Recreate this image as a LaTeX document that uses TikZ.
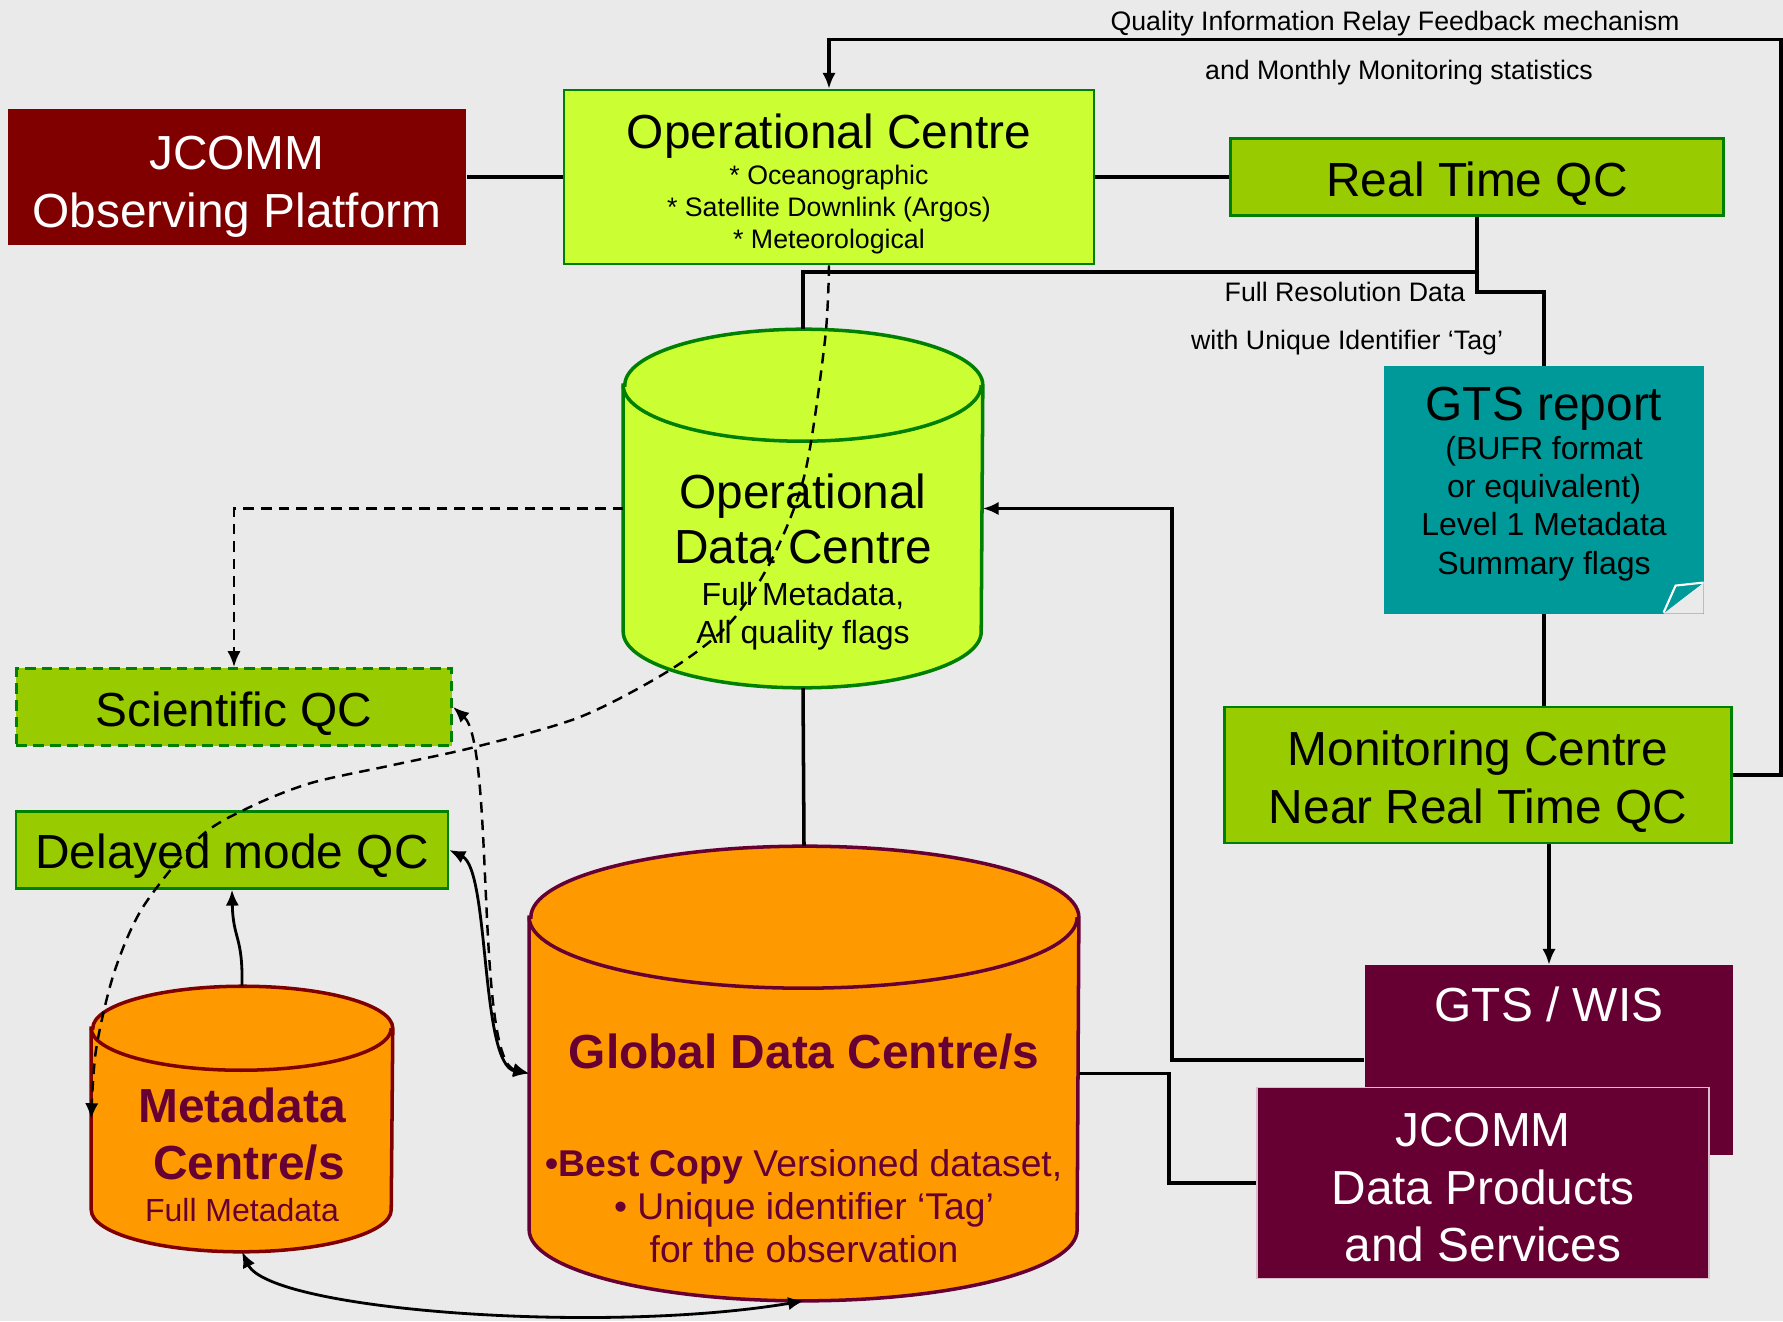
\documentclass[tikz,border=0pt]{standalone}
\usepackage{fontspec}
\setmainfont{Liberation Sans}
\usetikzlibrary{arrows.meta,calc}

\definecolor{bgray}{HTML}{EAEAEA}
\definecolor{limefill}{HTML}{CCFF33}
\definecolor{qcgreen}{HTML}{99CC00}
\definecolor{edgegreen}{HTML}{008000}
\definecolor{gtsteal}{HTML}{009999}
\definecolor{maroonred}{HTML}{800000}
\definecolor{wine}{HTML}{660033}
\definecolor{orangefill}{HTML}{FF9900}

\newcommand{\bigtxt}{\fontsize{13.6}{16.4}\selectfont}
\newcommand{\midtxt}{\fontsize{9.1}{10.9}\selectfont}
\newcommand{\gdctxt}{\fontsize{10.6}{12.3}\selectfont}
\newcommand{\smalltxt}{\fontsize{7.6}{9.1}\selectfont}
\newcommand{\vstrut}[1]{\rule{0pt}{#1}}

% node, x radius, y radius, fill, draw
\newcommand{\dbdrum}[5]{
    \filldraw[fill=#4, draw=#5, line width=1pt] ($(#1.north west)+(0,-#3)$) -- ($(#1.south west)+(0,#3)$)
        arc[start angle=180, end angle=360, x radius=#2, y radius=#3] -- ($(#1.north east)+(0,-#3)$)
        arc[start angle=0, end angle=180, x radius=#2, y radius=#3] -- cycle;
    \draw[#5, line width=1pt] ($(#1.north west)+(0,-#3)$) arc[start angle=180, end angle=360, x radius=#2, y radius=#3];
}

\tikzset{
    box/.style={rectangle, inner sep=0pt, align=center},
    opcbox/.style={box, fill=limefill, draw=edgegreen, line width=0.7pt},
    qcbox/.style={box, fill=qcgreen, draw=edgegreen, line width=0.7pt, font=\bigtxt, execute at begin node={\vstrut{13.5pt}}},
    winebox/.style={box, fill=wine, text=white, font=\bigtxt},
    drum/.style={rectangle, inner sep=0pt, draw=none},
    conn/.style={line width=1pt},
    thinconn/.style={line width=0.8pt},
    dconn/.style={line width=0.7pt, dash pattern=on 3pt off 2pt},
    note/.style={font=\smalltxt},
    >={Latex[length=4.5pt,width=3.8pt]}
}

\begin{document}
\begin{tikzpicture}[x=0.01cm, y=0.01cm]
    \fill[bgray] (0,0) rectangle (1783,-1321);
    \useasboundingbox (0,0) rectangle (1783,-1321);

    \node[winebox, fill=maroonred, minimum width=4.58cm, minimum height=1.35cm] (jobs) at (237,-177) {\vstrut{15.1pt}JCOMM\\Observing Platform};
    \node[opcbox, font=\smalltxt, minimum width=5.30cm, minimum height=1.74cm] (opc) at (829,-177)
        {{\bigtxt\vstrut{13.8pt}Operational Centre}\\[1.4pt]{*} Oceanographic\\{*} Satellite Downlink (Argos)\\{*} Meteorological};
    \node[qcbox, minimum width=4.93cm, minimum height=0.77cm] (rtqc) at (1477,-177) {Real Time QC};
    \node[box, fill=gtsteal, minimum width=3.19cm, minimum height=2.47cm,
        path picture={
            \fill[bgray] ([yshift=0.31cm]path picture bounding box.south east) -- (path picture bounding box.south east)
                -- ([xshift=-0.40cm]path picture bounding box.south east) -- cycle;
            \filldraw[fill=gtsteal, draw=white, line width=0.6pt] ([yshift=0.31cm]path picture bounding box.south east)
                -- ([xshift=-0.28cm,yshift=0.28cm]path picture bounding box.south east)
                -- ([xshift=-0.40cm,yshift=0.01cm]path picture bounding box.south east);
        }] (gtsr) at (1544,-490) {};
    \node[align=center, font=\midtxt] (gtsrtxt) at (1544,-484)
        {{\bigtxt GTS report}\\(BUFR format\\or equivalent)\\Level 1 Metadata\\Summary flags};
    \node[qcbox, minimum width=5.07cm, minimum height=1.36cm] (monc) at (1478,-775) {\vstrut{13.8pt}Monitoring Centre\\Near Real Time QC};
    \node[winebox, minimum width=3.68cm, minimum height=1.89cm, text height=10pt, text depth=32pt] (gtswis) at (1549,-1060) {GTS / WIS};
    \node[winebox, draw=white!75!wine, line width=0.5pt, minimum width=4.52cm, minimum height=1.91cm] (jdp) at (1483,-1183) {\vstrut{12.1pt}JCOMM\\Data Products\\and Services};

    \node[qcbox, draw=edgegreen, line width=0.9pt, dash pattern=on 3pt off 1.8pt, minimum width=4.35cm, minimum height=0.77cm] (sciqc) at (234,-707) {Scientific QC};
    \node[qcbox, minimum width=4.32cm, minimum height=0.77cm] (dmqc) at (232,-850) {Delayed mode QC};

    \node[drum, minimum width=3.58cm, minimum height=3.57cm] (odc) at (803,-508.5) {};
    \dbdrum{odc}{179}{56}{limefill}{edgegreen}
    \node[align=center, font=\midtxt] (odctxt) at (803,-562)
        {{\bigtxt Operational}\\[2.4pt]{\bigtxt Data Centre}\\[1.1pt]Full Metadata,\\All quality flags};

    \node[drum, minimum width=5.48cm, minimum height=4.53cm] (gdc) at (804,-1073.5) {};
    \dbdrum{gdc}{274}{71}{orangefill}{wine}
    \node[text=wine, font=\bigtxt\bfseries] (gdctitle) at (804,-1052) {Global Data Centre/s};
    \node[text=wine, font=\gdctxt, align=center] (gdctxt) at (804,-1206) {{\bfseries •Best Copy} Versioned dataset,\\• Unique identifier ‘Tag’\\for the observation};

    \node[drum, minimum width=3.00cm, minimum height=2.64cm] (meta) at (242,-1119) {};
    \dbdrum{meta}{150}{42}{orangefill}{maroonred}
    \node[text=wine, font=\midtxt, align=center] (metatxt) at (242,-1155)
        {{\bigtxt\bfseries Metadata}\\[5.3pt]{\bigtxt\bfseries\kern4pt Centre/s}\\[1.1pt]Full Metadata};

    \node[note] (qirf) at (1395,-24) {Quality Information Relay Feedback mechanism};
    \node[note] (mms) at (1399,-73) {and Monthly Monitoring statistics};
    \node[note] (frd) at (1345,-292) {Full Resolution Data};
    \node[note] (uit) at (1347,-343) {with Unique Identifier ‘Tag’};

    \draw[conn] (jobs.east) -- (opc.west);
    \draw[conn] (opc.east) -- (rtqc.west);
    \coordinate (split) at ($(rtqc.south)+(0,-55)$);
    \draw[conn] (rtqc.south) -- (split) -| (odc.north);
    \draw[conn] (split) -- ++(0,-20) -| (gtsr.north);
    \draw[conn] (gtsr.south) -- (gtsr.south |- monc.north);
    \draw[conn,->] (monc.south -| gtswis.north) -- (gtswis.north);
    \draw[conn,->] (monc.east) -- ++(48,0) |- ($(opc.north)+(0,49)$) -- (opc.north);
    \draw[conn,->] (gtswis.west) -- ++(-192,0) |- (odc.east);
    \draw[conn] (gdc.east) -- ++(90,0) |- (jdp.west);
    \draw[conn] (odc.south) -- (gdc.north);

    \draw[dconn,->] (odc.west) -| (sciqc.north);
    \draw[dconn,->] plot[smooth] coordinates {(opc.south) (825,-340) (805,-473) (773,-557) (730,-623) (670,-670) (580,-717)
        (475,-747) (393,-765) (311,-783) (250,-807) (200,-837) (143,-907) (114,-973) (96,-1050) (meta.west)};
    \draw[dconn,<->] (sciqc.east) .. controls (495,-745) and (475,-1060) .. (gdc.west);
    \draw[thinconn,<->] (dmqc.east) .. controls (490,-870) and (480,-1065) .. (gdc.west);
    \draw[thinconn,->] (meta.north) .. controls (243,-935) and (233,-940) .. (dmqc.south);
    \draw[thinconn,<->] (meta.south) .. controls (270,-1310) and (600,-1335) .. (gdc.south);
\end{tikzpicture}
\end{document}
